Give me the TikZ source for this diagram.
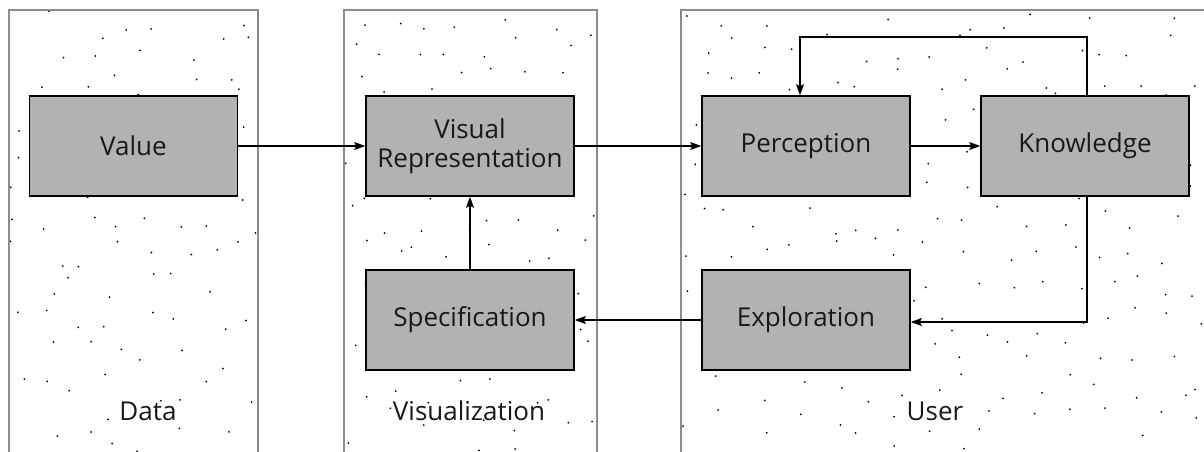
\documentclass[tikz,border=0pt]{standalone}
\usepackage{fontspec}
\setmainfont{Open Sans}
\usetikzlibrary{arrows.meta}
\begin{document}
\begin{tikzpicture}[x=1pt,y=-1pt,
  panel/.style={draw=black!45,line width=1.3pt},
  blk/.style={draw=black,line width=1.6pt,fill=black!30,minimum width=208pt,minimum height=100pt,inner sep=0pt,font=\fontsize{26}{29}\selectfont,align=center,text=black!90},
  lbl/.style={font=\fontsize{26}{29}\selectfont,text=black!90},
  arr/.style={line width=1.3pt,-{Stealth[length=11pt,width=8pt,inset=2pt]}}]
\useasboundingbox (0,0) rectangle (1204,451);
\fill[white] (0,0) rectangle (1204,451);
% dots
\begin{scope}
\clip (9,10) rectangle (258,460) (344,10) rectangle (597,460) (681,10) rectangle (1215,460);
\pgfmathsetseed{7}
\foreach \gx in {0,34,...,1204}{
  \foreach \gy in {0,34,...,460}{
    \pgfmathsetmacro{\dx}{\gx+rnd*30}
    \pgfmathsetmacro{\dy}{\gy+rnd*30}
    \fill[black] (\dx,\dy) circle (1pt);
  }
}
\end{scope}
\draw[panel] (9,10) rectangle (258,460);
\draw[panel] (344,10) rectangle (597,460);
\draw[panel] (681,10) rectangle (1215,460);
% blocks
\node[blk] (val) at (133.5,146) {Value};
\node[blk] (vis) at (470,146) {Visual\\Representation};
\node[blk] (per) at (806,146) {Perception};
\node[blk] (kno) at (1085,146) {Knowledge};
\node[blk] (spe) at (470,320) {Specification};
\node[blk] (exp) at (806,320) {Exploration};
% labels
\node[lbl] (ldata) at (148,411) {Data};
\node[lbl] (lvis) at (469,411) {Visualization};
\node[lbl] (luser) at (935,411) {User};
% arrows
\draw[arr] (val.east) -- (vis.west);
\draw[arr] (vis.east) -- (per.west);
\draw[arr] (per.east) -- (kno.west);
\draw[arr] ([xshift=2pt]kno.north) |- (800,37) -- (per.north -| 800,0);
\draw[arr] ([xshift=2pt]kno.south) |- ([yshift=-2pt]exp.east);
\draw[arr] (exp.west) -- (spe.east);
\draw[arr] (spe.north) -- (vis.south);
\end{tikzpicture}
\end{document}
